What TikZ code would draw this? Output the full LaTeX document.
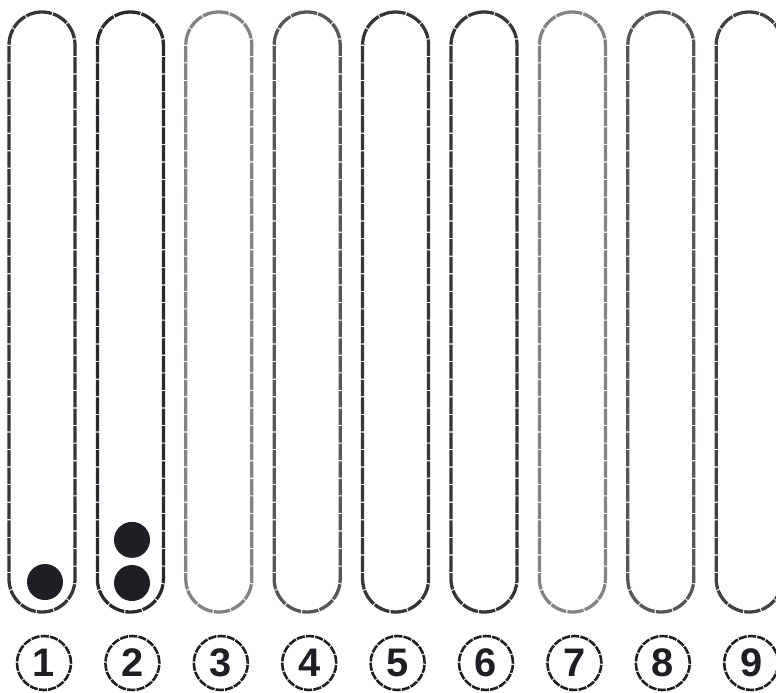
\documentclass[tikz,border=0pt]{standalone}
\usepackage{fontspec}
\setmainfont{Liberation Sans}
\usetikzlibrary{positioning}
\definecolor{colInk}{HTML}{1E1E24}
\def\numfont{\fontsize{34pt}{36pt}\selectfont\bfseries}
\tikzset{
  tubebox/.style={draw=#1, line width=2.8pt, dash pattern=on 14pt off 1pt,
    rounded corners=0.99cm, minimum width=1.98cm, minimum height=18cm,
    inner sep=0pt},
  ballnode/.style={circle, fill=colInk, minimum size=1.08cm, inner sep=0pt},
  numcirc/.style={circle, draw=colInk, line width=2.2pt, dash pattern=on 7pt off 1pt,
    minimum size=1.62cm, inner sep=0pt, font=\numfont, text=colInk},
}

\begin{document}
\begin{tikzpicture}[x=0.03cm, y=-0.03cm]
\useasboundingbox (0,0) rectangle (776,693);
\clip (0,0) rectangle (776,693);

% tubes and their numbers
\foreach \i/\shade in {1/90,2/95,3/55,4/75,5/90,6/90,7/55,8/75,9/85}{
  \node[tubebox=colInk!\shade] (tube\i) at ({42+88.4*(\i-1)},312) {};
  \node[numcirc] (lab\i) at ({44+88.4*(\i-1)},663) {\i};
}

% balls
\node[ballnode] (ball1) at (45,582) {};
\node[ballnode] (ball2a) at (132,583) {};
\node[ballnode, above=0.2cm of ball2a] (ball2b) {};

\end{tikzpicture}
\end{document}
